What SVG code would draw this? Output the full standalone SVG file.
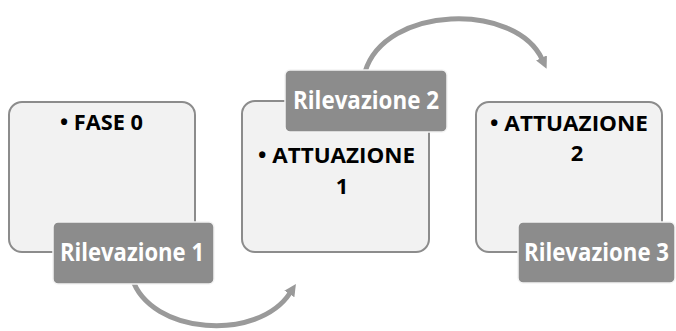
<svg xmlns="http://www.w3.org/2000/svg" width="676" height="331" viewBox="0 0 676 331">
  <style>
    .box { fill: #f2f2f2; stroke: #8c8c8c; stroke-width: 2; }
    .lab { fill: #8c8c8c; stroke: #f4f4f4; stroke-width: 1.5; }
    .body { font-family: "Open Sans", "Noto Sans", sans-serif; font-weight: 700; font-size: 22px; fill: #000000; }
    .labt { font-family: "Open Sans", "Noto Sans", sans-serif; font-weight: 700; font-size: 25px; fill: #ffffff; }
    .arc { fill: none; stroke: #9a9a9a; stroke-width: 5; }
  </style>
  <defs>
    <marker id="ah" markerUnits="userSpaceOnUse" viewBox="0 0 10 10" markerWidth="12" markerHeight="12" refX="1" refY="5" orient="auto">
      <path d="M0,0 L10,5 L0,10 z" fill="#9a9a9a"/>
    </marker>
  </defs>
  <g id="connectors">
    <path class="arc" d="M132,278 C150,335 258,342 290,293" marker-end="url(#ah)"/>
    <path class="arc" d="M365,72 C385,5 515,2 542,59" marker-end="url(#ah)"/>
  </g>
  <g id="node-fase0">
    <rect class="box" x="9" y="102" width="186" height="150" rx="13"/>
    <text class="body" x="60" y="130" textLength="83" lengthAdjust="spacingAndGlyphs">• FASE 0</text>
  </g>
  <g id="node-ril1">
    <rect class="lab" x="53" y="222" width="161" height="62" rx="5"/>
    <text class="labt" x="60" y="261" textLength="144" lengthAdjust="spacingAndGlyphs">Rilevazione 1</text>
  </g>
  <g id="node-att1">
    <rect class="box" x="242" y="101" width="187" height="151" rx="13"/>
    <text class="body" x="258" y="163" textLength="157" lengthAdjust="spacingAndGlyphs">• ATTUAZIONE</text>
    <text class="body" x="342" y="194" text-anchor="middle">1</text>
  </g>
  <g id="node-ril2">
    <rect class="lab" x="285" y="70" width="162" height="62" rx="5"/>
    <text class="labt" x="293" y="109" textLength="146" lengthAdjust="spacingAndGlyphs">Rilevazione 2</text>
  </g>
  <g id="node-att2">
    <rect class="box" x="476" y="102" width="186" height="150" rx="13"/>
    <text class="body" x="490" y="131" textLength="158" lengthAdjust="spacingAndGlyphs">• ATTUAZIONE</text>
    <text class="body" x="577" y="161" text-anchor="middle" font-size="20">2</text>
  </g>
  <g id="node-ril3">
    <rect class="lab" x="518" y="222" width="157" height="61" rx="5"/>
    <text class="labt" x="524" y="261" textLength="145" lengthAdjust="spacingAndGlyphs">Rilevazione 3</text>
  </g>
</svg>
